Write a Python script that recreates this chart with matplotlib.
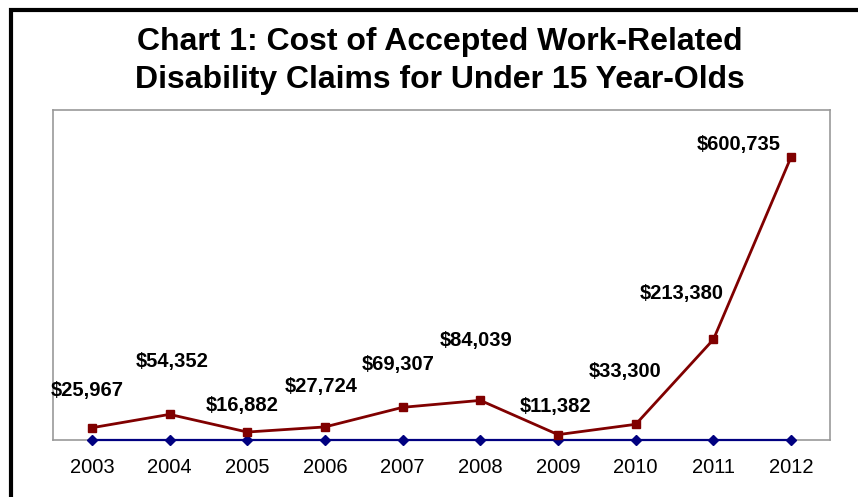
import matplotlib.pyplot as plt
from matplotlib.patches import Rectangle

years = ['2003', '2004', '2005', '2006', '2007', '2008', '2009', '2010', '2011', '2012']
cost = [25967, 54352, 16882, 27724, 69307, 84039, 11382, 33300, 213380, 600735]
baseline = [0, 0, 0, 0, 0, 0, 0, 0, 0, 0]

# label offsets (points) as placed in the original chart
label_dx = [-3, 2, -4, -3, -3, -3, -2, -8, -23, -38]
label_dy = [27, 38, 19, 29, 31, 43, 20, 38, 33, 9]

plt.rcParams['font.family'] = ['Liberation Sans', 'DejaVu Sans']

fig = plt.figure(figsize=(8.58, 4.97), dpi=100)
ax = fig.add_axes([53/858, 1 - 440/497, 777/858, 330/497])

x = list(range(len(years)))
ax.plot(x, baseline, color='#000080', marker='D', markersize=5.5, linewidth=1.6,
        clip_on=False, zorder=5)
ax.plot(x, cost, color='#800000', marker='s', markersize=6, linewidth=2,
        clip_on=False, zorder=6)

for i, v in enumerate(cost):
    ax.annotate(f'${v:,}', (i, v), xytext=(label_dx[i], label_dy[i]),
                textcoords='offset points', ha='center', va='center',
                fontsize=14.5, fontweight='bold')

ax.set_xlim(-0.5, len(years) - 0.5)
ax.set_ylim(0, 700000)
ax.set_xticks(x)
ax.set_xticklabels(years, fontsize=14.5)
ax.set_yticks([])
ax.tick_params(axis='x', length=0, pad=13)
for s in ax.spines.values():
    s.set_color('#999999')
    s.set_linewidth(1.2)

fig.suptitle('Chart 1: Cost of Accepted Work-Related\nDisability Claims for Under 15 Year-Olds',
             x=440/858, y=1 - 27/497, va='top', fontsize=23, fontweight='bold',
             linespacing=1.35)

fig.patches.append(Rectangle((11/858, -0.1), 1.2, 1.1 - 10/497,
                             transform=fig.transFigure, fill=False,
                             edgecolor='black', linewidth=3))

fig.savefig('out.png', dpi=100)
